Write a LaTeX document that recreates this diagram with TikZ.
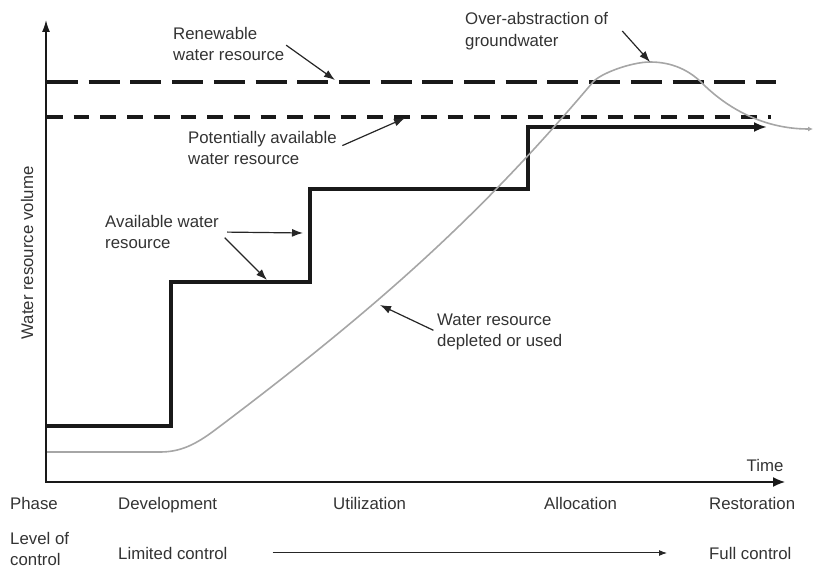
\documentclass[tikz,border=0pt]{standalone}
\usepackage{fontspec}
\setmainfont{Liberation Sans}
\usepackage{tikz}
\usetikzlibrary{arrows.meta}

\tikzset{
	lbl/.style={inner sep=0pt, anchor=west, align=left, text=black!80, font=\fontsize{16.8}{21.5}\selectfont},
	pointer/.style={-{Latex[length=11pt,width=8pt]}, line width=1.2pt, black!85},
}

\begin{document}
\begin{tikzpicture}[x=1pt,y=-1pt]
			
			\useasboundingbox (0,0) rectangle (814,572);
			
			% levels
			\draw[line width=3.6pt, black!90, dash pattern=on 31pt off 10.7pt] (47,82)--(776,82);
			\draw[line width=3.4pt, black!90, dash pattern=on 15.7pt off 11pt] (47,117)--(771,117);
			
			% available water resource
			\draw[line width=3.3pt, black!90, -{Latex[length=13pt,width=10pt]}] (47,426)--(171,426)--(171,282)--(310,282)--(310,189)--(528,189)--(528,127)--(767,127);
			
			% depleted or used
			\draw[black!35, line width=1.6pt, -{Latex[length=5pt,width=5pt]}] (47,452)--(160,452) .. controls (180,452) and (195,445) .. (215,430)
				.. controls (385,302) and (483,212) .. (593,82) .. controls (601,73) and (632,62) .. (650,62)
				.. controls (672,62) and (690,70) .. (705,86) .. controls (725,105) and (760,129) .. (813,129);
			
			\draw[{Latex[length=12pt,width=8pt]}-{Latex[length=12pt,width=10pt]}, line width=1.4pt, black!90] (46,20)--(46,482)--(785,482);
			
			\node[lbl, anchor=center, rotate=90] (ylab) at (27,253) {Water resource volume};
			\node[lbl, anchor=center] (time) at (765,465) {Time};
			
			\coordinate (renewtip) at (335,80);
			\coordinate (pottip) at (405,118);
			\coordinate (availtipa) at (303,233);
			\coordinate (availtipb) at (267,280);
			\coordinate (depltip) at (380,305);
			\coordinate (overtip) at (650,62);
			
			\node[lbl] (renew) at (173,44) {Renewable\\water resource};
			\node[lbl] (pot) at (188,148) {Potentially available\\water resource};
			\node[lbl] (avail) at (105,232) {Available water\\resource};
			\node[lbl] (depl) at (437,332) {Water resource\\depleted or used};
			\node[lbl] (over) at (465,31) {Over-abstraction of\\groundwater};
			
			\draw[pointer, shorten <=2pt] (renew.east)--(renewtip);
			\draw[pointer, shorten <=6pt] (pot.east)--(pottip);
			\draw[pointer, shorten <=8pt] (avail.east)--(availtipa);
			\draw[pointer, shorten <=8pt] (avail.east)--(availtipb);
			\draw[pointer, shorten <=4pt] (depl.west)--(depltip);
			\draw[pointer] ([xshift=14pt]over.east)--(overtip);
			
			% phases
			\node[lbl, anchor=base west] (phase) at (10,509) {Phase};
			\node[lbl, anchor=base west] (dev) at (118,509) {Development};
			\node[lbl, anchor=base west] (util) at (333,509) {Utilization};
			\node[lbl, anchor=base west] (alloc) at (544,509) {Allocation};
			\node[lbl, anchor=base west] (rest) at (709,509) {Restoration};
			
			\node[lbl] (level) at (10,549) {Level of\\control};
			\node[lbl, anchor=base west] (limited) at (118,559) {Limited control};
			\node[lbl, anchor=base west] (full) at (709,559) {Full control};
			\draw[-{Latex[length=8pt,width=6pt]}, line width=1pt, black!85] ([xshift=45pt]limited.east)--([xshift=-42pt]full.west);
			
		\end{tikzpicture}
\end{document}
